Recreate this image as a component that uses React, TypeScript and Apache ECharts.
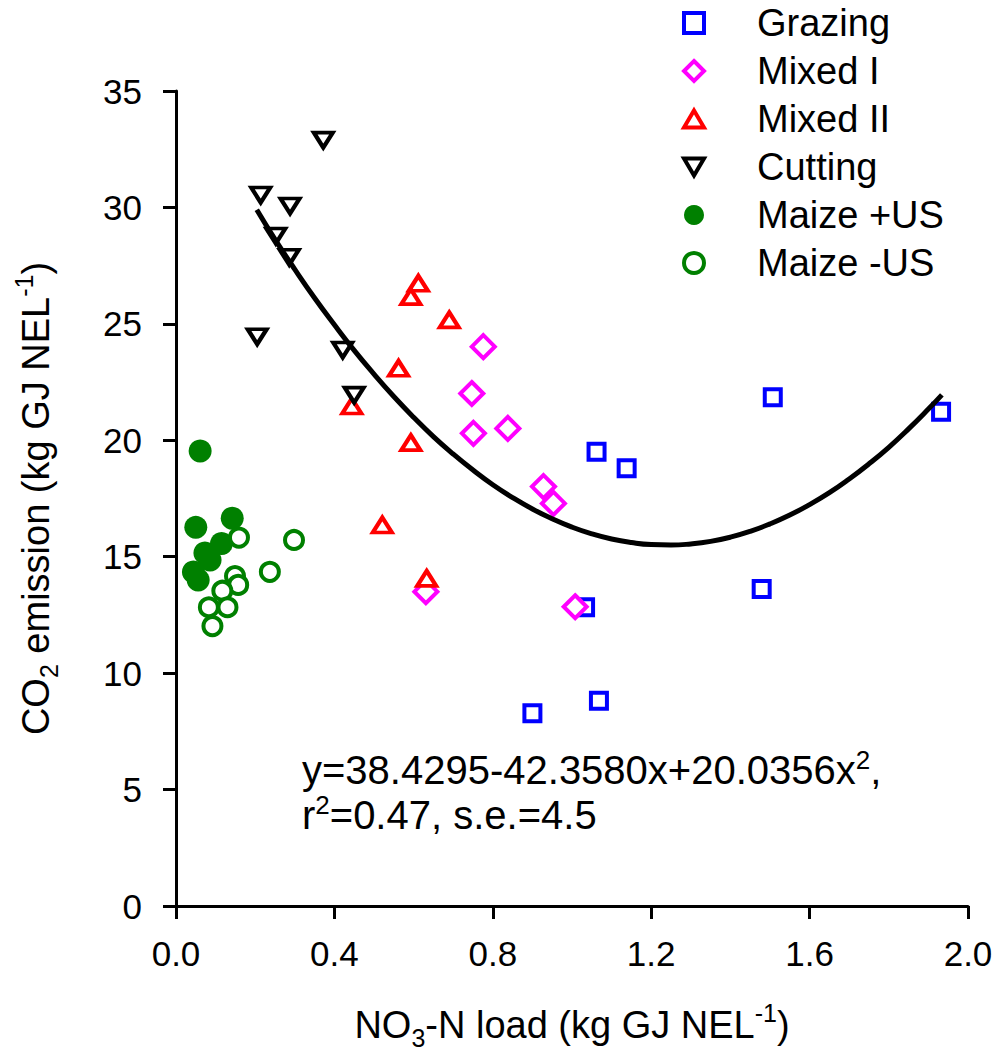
import React, { useEffect, useRef } from "react";
import * as echarts from "echarts";

// Data: [NO3-N load, CO2 emission]
const grazing: number[][] = [
  [1.932, 21.23], [1.507, 21.85], [1.479, 13.61], [1.138, 18.8],
  [1.062, 19.51], [1.033, 12.83], [1.068, 8.81], [0.9, 8.28],
];
const mixedI: number[][] = [
  [0.776, 24.02], [0.747, 22.01], [0.751, 20.3], [0.838, 20.51],
  [0.928, 18.01], [0.953, 17.29], [0.631, 13.5], [1.008, 12.85],
];
const mixedII: number[][] = [
  [0.612, 26.74], [0.593, 26.17], [0.69, 25.17], [0.562, 23.09],
  [0.444, 21.47], [0.593, 19.9], [0.521, 16.36], [0.633, 14.07],
];
const cutting: number[][] = [
  [0.372, 32.89], [0.214, 30.53], [0.288, 30.06], [0.252, 28.77],
  [0.286, 27.86], [0.205, 24.45], [0.421, 23.88], [0.45, 21.94],
];
const maizePlus: number[][] = [
  [0.061, 19.54], [0.05, 16.26], [0.142, 16.65], [0.115, 15.57],
  [0.073, 15.16], [0.086, 14.86], [0.044, 14.34], [0.056, 14.0],
];
const maizeMinus: number[][] = [
  [0.159, 15.82], [0.298, 15.72], [0.237, 14.35], [0.149, 14.17],
  [0.157, 13.79], [0.117, 13.54], [0.13, 12.83], [0.083, 12.83], [0.092, 12.02],
];
// Fitted curve, points
const fitCurve: number[][] = [
  [0.204, 29.9], [0.25, 28.63], [0.3, 27.34], [0.35, 26.11], [0.4, 24.96],
  [0.45, 23.86], [0.5, 22.84], [0.55, 21.88], [0.6, 20.99], [0.65, 20.16],
  [0.7, 19.41], [0.75, 18.72], [0.8, 18.09], [0.85, 17.54], [0.9, 17.05],
  [0.95, 16.63], [1.0, 16.27], [1.05, 15.98], [1.1, 15.76], [1.15, 15.61],
  [1.2, 15.52], [1.25, 15.5], [1.3, 15.55], [1.35, 15.66], [1.4, 15.84],
  [1.45, 16.09], [1.5, 16.41], [1.55, 16.79], [1.6, 17.24], [1.65, 17.75],
  [1.7, 18.34], [1.75, 18.99], [1.8, 19.7], [1.85, 20.49], [1.9, 21.34], [1.934, 21.95],
];
const legendNames = ["Grazing", "Mixed I", "Mixed II", "Cutting", "Maize +US", "Maize -US"];
const equationText = "y=38.4295-42.3580x+20.0356x{sup|2},\nr{sup|2}=0.47, s.e.=4.5";
const xAxisName = "NO{sub|3}-N load (kg GJ NEL{sup|-1})";
const yAxisName = "CO{sub|2} emission (kg GJ NEL{sup|-1})";

const FONT = "Arial, 'Liberation Sans', sans-serif";

export default function App() {
  const ref = useRef<HTMLDivElement>(null);
  useEffect(() => {
    if (!ref.current) return;
    const chart = echarts.init(ref.current, undefined, { renderer: "svg" });
    const openStyle = (c: string) => ({ color: "#fff", borderColor: c, borderWidth: 4, opacity: 1 });
    const nameRich = {
      sub: { fontSize: 25, lineHeight: 14, verticalAlign: "bottom", fontFamily: FONT, color: "#000" },
      sup: { fontSize: 25, lineHeight: 30, verticalAlign: "top", fontFamily: FONT, color: "#000" },
    };
    chart.setOption({
      animation: false,
      backgroundColor: "#fff",
      textStyle: { fontFamily: FONT },
      grid: { left: 176, right: 28, top: 91, bottom: 153 },
      legend: {
        orient: "vertical",
        left: 682,
        top: 4,
        padding: 0,
        itemWidth: 20,
        itemHeight: 20,
        itemGap: 10,
        itemStyle: { borderWidth: 4 },
        textStyle: { fontSize: 38, color: "#000", fontFamily: FONT, padding: [0, 0, 0, 48] },
        data: [
          { name: legendNames[0] },
          { name: legendNames[1] },
          { name: legendNames[2], icon: "path://M10,0L20,17L0,17Z" },
          { name: legendNames[3], icon: "path://M0,0L20,0L10,17Z" },
          { name: legendNames[4] },
          { name: legendNames[5] },
        ],
      },
      xAxis: {
        type: "value",
        min: 0,
        max: 2,
        interval: 0.4,
        name: xAxisName,
        nameLocation: "middle",
        nameGap: 94,
        nameTextStyle: { fontSize: 38, lineHeight: 50, color: "#000", fontFamily: FONT, rich: nameRich },
        axisLine: { lineStyle: { color: "#000", width: 3 } },
        axisTick: { length: 13, lineStyle: { color: "#000", width: 3 } },
        axisLabel: {
          fontSize: 35, color: "#000", margin: 30, fontFamily: FONT,
          formatter: (v: number) => v.toFixed(1),
        },
        splitLine: { show: false },
      },
      yAxis: {
        type: "value",
        min: 0,
        max: 35,
        interval: 5,
        name: yAxisName,
        nameLocation: "middle",
        nameGap: 115,
        nameTextStyle: { fontSize: 38, lineHeight: 50, color: "#000", fontFamily: FONT, rich: nameRich },
        axisLine: { show: true, lineStyle: { color: "#000", width: 3 } },
        axisTick: { show: true, length: 13, lineStyle: { color: "#000", width: 3 } },
        axisLabel: { fontSize: 35, color: "#000", margin: 34, fontFamily: FONT },
        splitLine: { show: false },
      },
      graphic: [
        {
          type: "text",
          left: 302,
          top: 747,
          style: {
            text: equationText,
            fontSize: 40,
            lineHeight: 45,
            fill: "#000",
            fontFamily: FONT,
            rich: {
              sup: { fontSize: 26, lineHeight: 26, verticalAlign: "top", fontFamily: FONT, fill: "#000" },
            },
          },
        },
      ],
      series: [
        {
          name: legendNames[0], type: "scatter", data: grazing,
          symbol: "rect", symbolSize: 16, itemStyle: openStyle("#0000ff"),
        },
        {
          name: legendNames[1], type: "scatter", data: mixedI,
          symbol: "diamond", symbolSize: 23, itemStyle: openStyle("#ff00ff"),
        },
        {
          name: legendNames[2], type: "scatter", data: mixedII,
          symbol: "triangle", symbolSize: [19, 15], itemStyle: openStyle("#ff0000"),
        },
        {
          name: legendNames[3], type: "scatter", data: cutting,
          symbol: "triangle", symbolSize: [19, 15], symbolRotate: 180, itemStyle: openStyle("#000000"),
        },
        {
          name: legendNames[4], type: "scatter", data: maizePlus,
          symbol: "circle", symbolSize: 23, itemStyle: { color: "#008000", opacity: 1 },
        },
        {
          name: legendNames[5], type: "scatter", data: maizeMinus,
          symbol: "circle", symbolSize: 18, itemStyle: openStyle("#008000"),
        },
        {
          name: "fit", type: "line", data: fitCurve, smooth: true, symbol: "none",
          lineStyle: { color: "#000", width: 5 }, z: 5,
        },
      ],
    });
    return () => chart.dispose();
  }, []);
  return (
    <div
      ref={ref}
      style={{ position: "fixed", left: 0, top: 0, width: 996, height: 1059, background: "#fff" }}
    />
  );
}
